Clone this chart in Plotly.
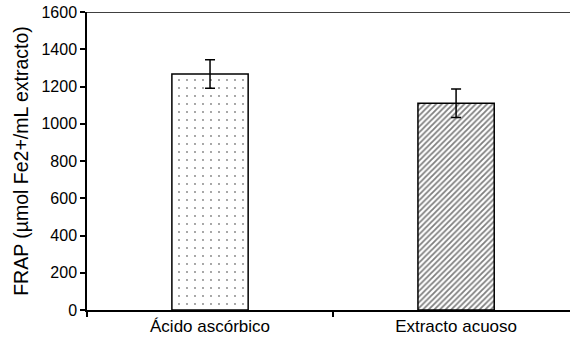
import plotly.graph_objects as go

categories = ["Ácido ascórbico", "Extracto acuoso"]
values = [1267, 1110]
errors = [77, 77]
y_ticks = [0, 200, 400, 600, 800, 1000, 1200, 1400, 1600]
y_title = "FRAP (µmol Fe2+/mL extracto)"

fig = go.Figure()
fig.add_trace(go.Bar(
    x=[categories[0]], y=[values[0]],
    error_y=dict(type="data", array=[errors[0]], color="black", thickness=1.5, width=5),
    marker=dict(color="white", line=dict(color="black", width=1.5),
                pattern=dict(shape=".", fgcolor="black", bgcolor="white", size=8, solidity=0.04)),
    width=0.31, showlegend=False,
))
fig.add_trace(go.Bar(
    x=[categories[1]], y=[values[1]],
    error_y=dict(type="data", array=[errors[1]], color="black", thickness=1.5, width=5),
    marker=dict(color="white", line=dict(color="black", width=1.5),
                pattern=dict(shape="/", fgcolor="black", bgcolor="white", size=4, solidity=0.45)),
    width=0.31, showlegend=False,
))

fig.update_layout(
    width=570, height=343,
    margin=dict(l=87, r=0, t=12, b=33, autoexpand=False),
    paper_bgcolor="white", plot_bgcolor="white",
    font=dict(family="Liberation Sans, Arial, sans-serif", color="black", size=16),
    barmode="overlay",
)
fig.update_xaxes(
    type="category", categoryorder="array", categoryarray=categories,
    range=[-0.5, 1.463], automargin=False,
    showline=True, linecolor="black", linewidth=1.5,
    ticks="outside", tickson="boundaries", ticklen=5, tickcolor="black", tickwidth=1.5,
    showgrid=False, tickfont=dict(size=17),
)
fig.update_yaxes(
    range=[0, 1600], tickvals=y_ticks, automargin=False,
    showline=True, linecolor="black", linewidth=1.5,
    ticks="outside", ticklen=5, tickcolor="black", tickwidth=1.5,
    showgrid=False, zeroline=False, tickfont=dict(size=16),
    title=dict(text=y_title, font=dict(size=19.5), standoff=8),
)
fig.add_shape(type="line", xref="paper", yref="y", x0=-0.011, x1=1, y0=1600, y1=1600,
              line=dict(color="black", width=1.5))

fig.write_html("out.html", config={"displayModeBar": False},
               post_script="document.body.style.margin='0';document.body.style.overflow='hidden';")
